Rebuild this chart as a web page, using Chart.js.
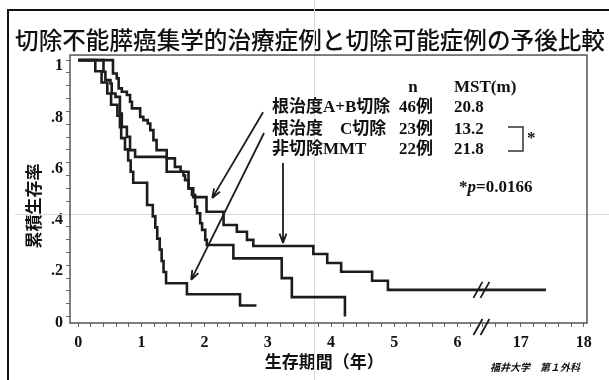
<!DOCTYPE html>
<html>
<head>
<meta charset="utf-8">
<script src="https://cdn.jsdelivr.net/npm/chart.js@4.4.0/dist/chart.umd.min.js"></script>
<style>
  html, body { margin: 0; padding: 0; background: #fff; }
  #wrap { position: relative; width: 609px; height: 380px; overflow: hidden; }
  #frame { position: absolute; left: 7px; top: 9px; width: 700px; height: 500px;
    border-left: 2px solid #111; border-top: 2px solid #111; }
  canvas { position: absolute; left: 0; top: 0; }
</style>
</head>
<body>
<div id="wrap">
  <div id="frame"></div>
  <canvas id="km" width="609" height="380"></canvas>
</div>
<script>
// 生存曲線（年, 累積生存率）
const abTimes = [0, 0.55, 0.61, 0.64, 0.69, 0.77, 0.82, 0.85, 0.98, 1.03, 1.10, 1.14, 1.19, 1.24, 1.40, 1.53, 1.62, 1.665, 1.69, 1.745, 1.80, 1.85, 1.88, 1.93, 1.96, 2.01, 2.035, 2.455, 3.22, 3.38, 4.22]
const abSurv  = [1, .948, .929, .890, .877, .864, .838, .812, .779, .766, .753, .727, .688, .649, .617, .584, .565, .55, .532, .50, .474, .429, .403, .364, .338, .299, .279, .227, .150, .076, 0]

const cTimes = [0, 0.27, 0.37, 0.46, 0.52, 0.62, 0.66, 0.68, 0.74, 0.79, 0.83, 0.87, 1.09, 1.18, 1.22, 1.25, 1.29, 1.32, 1.35, 1.39, 1.72, 2.56, 2.82]
const cSurv  = [1, .957, .913, .870, .826, .783, .739, .696, .652, .609, .565, .522, .435, .391, .348, .304, .261, .217, .174, .130, .087, .043, .043]

const mmtTimes = [0, 0.40, 0.43, 0.51, 0.53, 0.59, 0.66, 0.69, 0.77, 0.82, 0.90, 1.40, 1.745, 1.82, 2.03, 2.30, 2.51, 2.67, 2.77, 3.72, 3.94, 4.16, 4.65, 4.90, 17.4]
const mmtSurv  = [1, .955, .922, .909, .870, .857, .792, .740, .701, .649, .623, .565, .50, .466, .409, .357, .331, .299, .275, .244, .209, .175, .140, .104, .104]

const xTickLabels = ['0', '1', '2', '3', '4', '5', '6', '17', '18']
const yTickLabels = ['0', '.2', '.4', '.6', '.8', '1']

const groups = ['根治度A+B切除', '根治度　C切除', '非切除MMT']
const counts = ['46例', '23例', '22例']
const mst = ['20.8', '13.2', '21.8']

// 矢印（データ座標）: ラベルから曲線へ
const arrows = [
  { from: [2.925, 0.797], to: [2.12, 0.462] },
  { from: [2.94, 0.716], to: [1.787, 0.143] },
  { from: [3.24, 0.599], to: [3.24, 0.287] },
]

// 軸の省略 6.5年〜16.5年
const breakAt = 6.5
const gap = 10
const breakPos = 6.38
const toPos = t => t > breakAt ? t - gap : t

const mkSet = (label, times, surv) => ({
  label,
  data: times.map((t, i) => ({ x: toPos(t), y: surv[i] })),
  stepped: 'before',
  borderColor: '#1c1c1c',
  borderWidth: 2.6,
  pointRadius: 0,
  fill: false,
})

const serif = "'Liberation Serif', 'Noto Sans CJK JP', serif"
const gothic = "'Noto Sans CJK JP', sans-serif"

const decor = {
  id: 'decor',
  beforeDatasetsDraw(chart) {
    const { ctx, scales: { x, y } } = chart
    // 薄いガイド線
    ctx.save()
    ctx.strokeStyle = '#dadada'
    ctx.lineWidth = 1
    const gy = Math.round(y.getPixelForValue(0.4)) + 0.5
    const gx = Math.round(x.getPixelForValue(3.73)) + 0.5
    ctx.beginPath()
    ctx.moveTo(15, gy); ctx.lineTo(609, gy)
    ctx.moveTo(gx, 0); ctx.lineTo(gx, 380)
    ctx.stroke()
    ctx.restore()
  },
  afterDatasetsDraw(chart) {
    const { ctx, chartArea: a, scales: { x, y } } = chart
    ctx.save()
    // 枠
    ctx.strokeStyle = '#555'
    ctx.lineWidth = 1.5
    ctx.strokeRect(a.left, a.top, a.right - a.left, a.bottom - a.top)

    // 省略記号 //
    const slash = (cx, cy) => {
      ctx.strokeStyle = '#1c1c1c'
      ctx.lineWidth = 1.8
      ctx.beginPath()
      for (const dx of [-3.5, 3.5]) {
        ctx.moveTo(cx + dx - 4.5, cy + 8)
        ctx.lineTo(cx + dx + 4.5, cy - 8)
      }
      ctx.stroke()
    }
    const bx = x.getPixelForValue(breakPos)
    slash(bx, y.getPixelForValue(mmtSurv[mmtSurv.length - 1]))
    slash(bx, a.bottom + 4)

    // 矢印
    ctx.strokeStyle = '#1c1c1c'
    ctx.lineWidth = 1.8
    arrows.forEach(({ from, to }) => {
      const x0 = x.getPixelForValue(from[0]), y0 = y.getPixelForValue(from[1])
      const x1 = x.getPixelForValue(to[0]), y1 = y.getPixelForValue(to[1])
      const ang = Math.atan2(y1 - y0, x1 - x0)
      ctx.beginPath()
      ctx.moveTo(x0, y0); ctx.lineTo(x1, y1)
      for (const s of [-1, 1]) {
        ctx.moveTo(x1, y1)
        ctx.lineTo(x1 - 10 * Math.cos(ang + s * 0.35), y1 - 10 * Math.sin(ang + s * 0.35))
      }
      ctx.stroke()
    })

    // 凡例テキスト
    ctx.fillStyle = '#111'
    ctx.textBaseline = 'middle'
    ctx.font = 'bold 17px ' + serif
    ctx.textAlign = 'center'
    ctx.fillText('n', 413, 88)
    ctx.textAlign = 'left'
    ctx.fillText('MST(m)', 454, 88)
    const rows = [108, 129.5, 150]
    rows.forEach((ry, i) => {
      ctx.textAlign = 'left'
      ctx.fillText(groups[i], 272, ry)
      ctx.textAlign = 'right'
      ctx.fillText(counts[i], 433, ry)
      ctx.textAlign = 'left'
      ctx.fillText(mst[i], 454, ry)
    })

    // 有意差の括弧
    ctx.lineWidth = 1.5
    ctx.strokeStyle = '#333'
    ctx.beginPath()
    ctx.moveTo(508, 127); ctx.lineTo(523, 127); ctx.lineTo(523, 151); ctx.lineTo(508, 151)
    ctx.stroke()
    ctx.fillText('*', 527, 139)

    // p値
    let px = 459
    const part = (txt, font) => {
      ctx.font = font
      ctx.fillText(txt, px, 188)
      px += ctx.measureText(txt).width
    }
    part('*', 'bold 17px ' + serif)
    part('p', 'italic bold 17px ' + serif)
    part('=0.0166', 'bold 17px ' + serif)

    // 出典
    ctx.font = 'italic bold 10px ' + gothic
    ctx.textAlign = 'right'
    ctx.fillText('福井大学　第１外科', 580, 367)
    ctx.restore()
  }
}

new Chart(document.getElementById('km'), {
  type: 'line',
  data: {
    datasets: [
      mkSet(groups[0], abTimes, abSurv),
      mkSet(groups[1], cTimes, cSurv),
      mkSet(groups[2], mmtTimes, mmtSurv),
    ]
  },
  options: {
    responsive: false,
    animation: false,
    layout: { padding: { left: 15, right: 4, top: 0, bottom: 0 } },
    plugins: {
      legend: { display: false },
      tooltip: { enabled: false },
      title: {
        display: true,
        text: '切除不能膵癌集学的治療症例と切除可能症例の予後比較',
        color: '#111',
        font: { family: gothic, size: 23.6, weight: '500', lineHeight: 1.15 },
        padding: { top: 26, bottom: 1.9 },
      },
    },
    scales: {
      x: {
        type: 'linear',
        min: -0.13,
        max: 8.05,
        afterFit: s => { s.height = 57 },
        afterBuildTicks: s => {
          s.ticks = Array.from({ length: 41 }, (_, i) => ({ value: i / 5 }))
        },
        ticks: {
          autoSkip: false,
          maxRotation: 0,
          padding: 6,
          color: '#111',
          font: { family: serif, size: 16, weight: 'bold' },
          callback: v => {
            const k = Math.round(v)
            return Math.abs(v - k) < 1e-6 ? xTickLabels[k] : ''
          },
        },
        grid: { drawOnChartArea: false, tickLength: 4, color: '#666' },
        border: { display: false },
        title: {
          display: true,
          text: '生存期間（年）　',
          color: '#111',
          font: { family: gothic, size: 17, weight: 'bold', lineHeight: 1.2 },
          padding: { top: 0, bottom: 8 },
        },
      },
      y: {
        min: -0.025,
        max: 1.02,
        afterFit: s => { s.width = 55 },
        afterBuildTicks: s => {
          s.ticks = Array.from({ length: 21 }, (_, i) => ({ value: i / 20 }))
        },
        ticks: {
          autoSkip: false,
          padding: 3,
          labelOffset: 6,
          color: '#111',
          font: { family: serif, size: 16, weight: 'bold' },
          callback: v => {
            const k = Math.round(v * 5)
            return Math.abs(v - k / 5) < 1e-6 ? yTickLabels[k] : ''
          },
        },
        grid: { drawOnChartArea: false, tickLength: 4, color: '#666' },
        border: { display: false },
        title: {
          display: true,
          text: '累積生存率　　',
          color: '#111',
          font: { family: gothic, size: 17, weight: 'bold', lineHeight: 1.2 },
          padding: { top: 8, bottom: 0 },
        },
      },
      // 右側の余白だけを取る空の軸
      yRight: {
        position: 'right',
        display: true,
        afterFit: s => { s.width = 18 },
        ticks: { display: false },
        grid: { display: false },
        border: { display: false },
      },
    },
  },
  plugins: [decor],
})
</script>
</body>
</html>
